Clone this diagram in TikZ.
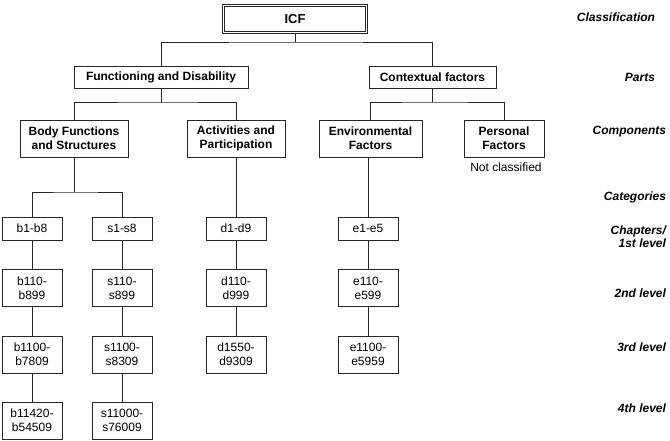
\documentclass[tikz,border=0pt]{standalone}
\usepackage{fontspec}
\setmainfont{Liberation Sans}
\begin{document}
\begin{tikzpicture}[x=1pt,y=-1pt,
  every node/.style={inner sep=0pt, outer sep=0pt},
  txt/.style={font=\fontsize{12}{14}\selectfont, align=center},
  box/.style={txt, draw=black!85, line width=0.9pt},
  hbox/.style={box, font=\bfseries\fontsize{12}{14}\selectfont},
  lbl/.style={anchor=east, align=right, font=\bfseries\itshape\fontsize{12}{13}\selectfont},
  conn/.style={draw=black!85, line width=0.8pt},
  rowA/.style={box, minimum width=60pt, minimum height=23pt},
  rowB/.style={box, minimum width=60pt, minimum height=37pt}
]
\useasboundingbox (0,0) rectangle (670,440);

% top
\node[box, font=\bfseries\fontsize{13}{15}\selectfont, double, double distance=1.6pt, line width=0.7pt,
      minimum width=143pt, minimum height=27pt] (icf) at (295,19) {ICF};
\node[hbox, minimum width=174pt, minimum height=22pt] (func) at (161,77) {Functioning and Disability};
\node[hbox, minimum width=127pt, minimum height=22pt] (ctx) at (432.5,77) {Contextual factors};

\node[hbox, minimum width=108pt, minimum height=37pt] (body) at (74,138.5) {Body Functions\\and Structures};
\node[hbox, minimum width=98pt, minimum height=37pt] (act) at (236,138.5) {Activities and\\Participation};
\node[hbox, minimum width=103pt, minimum height=37pt] (env) at (370.5,138.5) {Environmental\\Factors};
\node[hbox, minimum width=80pt, minimum height=37pt] (pers) at (504,138.5) {Personal\\Factors};
\node[txt] (notc) at (506,167) {Not classified};

% rows
\node[rowA] (b1) at (32,228.5) {b1-b8};
\node[rowA] (s1) at (122,228.5) {s1-s8};
\node[rowA] (d1) at (236,228.5) {d1-d9};
\node[rowA] (e1) at (368,228.5) {e1-e5};

\node[rowB] (b2) at (32,288) {b110-\\b899};
\node[rowB] (s2) at (122,288) {s110-\\s899};
\node[rowB] (d2) at (236,288) {d110-\\d999};
\node[rowB] (e2) at (368,288) {e110-\\e599};

\node[rowB] (b3) at (32,354.5) {b1100-\\b7809};
\node[rowB] (s3) at (122,354.5) {s1100-\\s8309};
\node[rowB] (d3) at (236,354.5) {d1550-\\d9309};
\node[rowB] (e3) at (368,354.5) {e1100-\\e5959};

\node[rowB] (b4) at (32,420.5) {b11420-\\b54509};
\node[rowB] (s4) at (122,420.5) {s11000-\\s76009};

% right labels
\node[lbl] (lcls) at (655,17) {Classification};
\node[lbl] (lpart) at (655,77) {Parts};
\node[lbl] (lcomp) at (666,132) {Components};
\node[lbl] (lcat) at (666,197) {Categories};
\node[lbl] (lch) at (666,236.5) {Chapters/\\1st level};
\node[lbl] (l2) at (666,293) {2nd level};
\node[lbl] (l3) at (666,347) {3rd level};
\node[lbl] (l4) at (666,408) {4th level};

% connectors
\coordinate (ya) at (0,42);
\coordinate (yb) at (0,102);
\coordinate (yc) at (0,192);
\coordinate (j1) at (icf.south |- ya);
\coordinate (j2) at (func.south |- yb);
\coordinate (j3) at (ctx.south |- yb);
\coordinate (j4) at (body.south |- yc);

\path[conn] (icf.south) -- (j1);
\path[conn] (func.north) |- (j1) -| (ctx.north);
\path[conn] (func.south) -- (j2);
\path[conn] (body.north) |- (j2) -| (act.north);
\path[conn] (ctx.south) -- (j3);
\path[conn] (env.north) |- (j3) -| (pers.north);
\path[conn] (body.south) -- (j4);
\path[conn] (b1.north) |- (j4) -| (s1.north);
\path[conn] (act.south) -- (d1.north);
\path[conn] (env.south -| e1.north) -- (e1.north);

\path[conn] (b1) -- (b2);
\path[conn] (b2) -- (b3);
\path[conn] (b3) -- (b4);
\path[conn] (s1) -- (s2);
\path[conn] (s2) -- (s3);
\path[conn] (s3) -- (s4);
\path[conn] (d1) -- (d2);
\path[conn] (d2) -- (d3);
\path[conn] (e1) -- (e2);
\path[conn] (e2) -- (e3);
\end{tikzpicture}
\end{document}
